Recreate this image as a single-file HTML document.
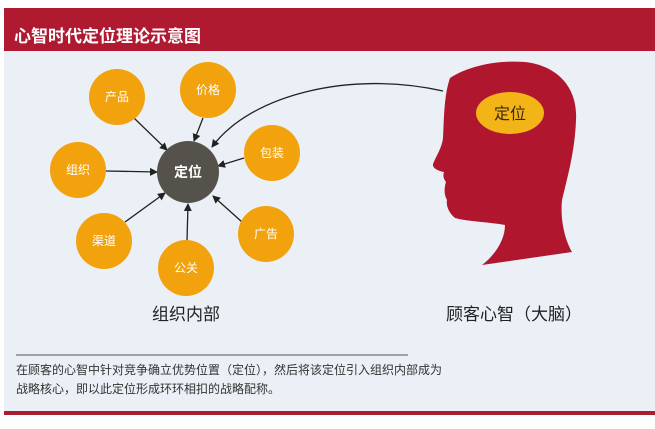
<!DOCTYPE html>
<html><head><meta charset="utf-8"><style>
body{margin:0;width:655px;height:429px;background:#fff;overflow:hidden;font-family:"Liberation Sans","Noto Sans CJK SC",sans-serif}
</style></head><body>
<svg width="655" height="429" viewBox="0 0 655 429" xmlns="http://www.w3.org/2000/svg" style="position:absolute;left:0;top:0">
<defs><marker id="a" markerWidth="8" markerHeight="8" refX="7" refY="4" orient="auto" markerUnits="userSpaceOnUse"><path d="M0,0 L8,4 L0,8 Z" fill="#222"/></marker></defs>
<rect x="4" y="51" width="651" height="362" fill="#eaf0f5"/>
<rect x="4" y="8" width="651" height="43" fill="#b01a30"/>
<text x="14" y="42" font-size="17" font-weight="bold" fill="#fff">心智时代定位理论示意图</text>
<rect x="4" y="411" width="651" height="4" fill="#a8202f"/>
<g stroke="#222" stroke-width="1.3" fill="none" marker-end="url(#a)">
<line x1="134" y1="118" x2="167" y2="150"/>
<line x1="203" y1="118" x2="194" y2="141"/>
<line x1="244" y1="158" x2="218" y2="166"/>
<line x1="106" y1="171" x2="157" y2="172"/>
<line x1="242" y1="222" x2="213" y2="196"/>
<line x1="125" y1="222" x2="165" y2="193"/>
<line x1="187" y1="241" x2="188" y2="204"/>
<path d="M443,91 C350,70 250,95 212,147"/>
</g>
<g fill="#f2a20c">
<circle cx="117" cy="97" r="28"/><circle cx="208" cy="90" r="28"/>
<circle cx="272" cy="153" r="28"/><circle cx="78" cy="170" r="28"/>
<circle cx="266" cy="234" r="28"/><circle cx="104" cy="241" r="28"/>
<circle cx="186" cy="268" r="28"/>
</g>
<circle cx="188" cy="172" r="31" fill="#54524a"/>
<g font-size="12" fill="#fff" text-anchor="middle">
<text x="117" y="101">产品</text><text x="208" y="94">价格</text>
<text x="272" y="157">包装</text><text x="78" y="174">组织</text>
<text x="266" y="238">广告</text><text x="104" y="245">渠道</text>
<text x="186" y="272">公关</text>
<text x="188" y="177" font-size="14" font-weight="bold">定位</text>
</g>
<path d="M450,78 C470,65 500,60 525,62 C560,66 578,90 576,120 C575,150 568,175 562,200 C560,220 565,240 572,252 L482,265 C495,255 505,240 505,225 C490,222 470,222 455,218 C448,212 446,205 447,200 C444,195 444,188 446,182 C443,178 443,175 444,172 C438,171 432,168 433,164 C436,156 442,148 443,138 C444,118 444,95 450,78 Z" fill="#b0172f"/>
<ellipse cx="510" cy="113" rx="34" ry="21" fill="#f2b417"/>
<text x="510" y="119" font-size="16" text-anchor="middle" fill="#3a2a10">定位</text>
<text x="186" y="320" font-size="17" text-anchor="middle" fill="#222">组织内部</text>
<text x="514" y="320" font-size="17" text-anchor="middle" fill="#222">顾客心智（大脑）</text>
<line x1="16" y1="355" x2="408" y2="355" stroke="#555" stroke-width="1"/>
<text x="16" y="374" font-size="12" fill="#333">在顾客的心智中针对竞争确立优势位置（定位），然后将该定位引入组织内部成为</text>
<text x="16" y="393" font-size="12" fill="#333">战略核心，即以此定位形成环环相扣的战略配称。</text>
</svg>
</body></html>
